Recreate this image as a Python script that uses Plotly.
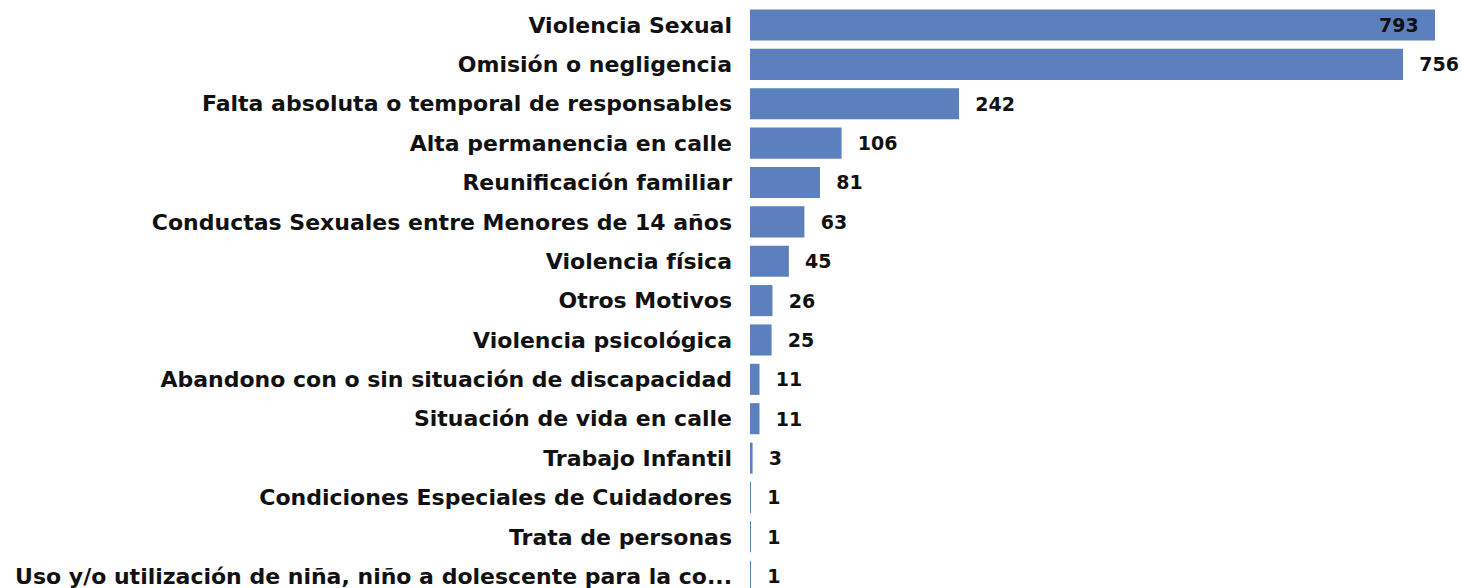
import plotly.graph_objects as go

categories = [
    "Violencia Sexual",
    "Omisión o negligencia",
    "Falta absoluta o temporal de responsables",
    "Alta permanencia en calle",
    "Reunificación familiar",
    "Conductas Sexuales entre Menores de 14 años",
    "Violencia física",
    "Otros Motivos",
    "Violencia psicológica",
    "Abandono con o sin situación de discapacidad",
    "Situación de vida en calle",
    "Trabajo Infantil",
    "Condiciones Especiales de Cuidadores",
    "Trata de personas",
    "Uso y/o utilización de niña, niño a dolescente para la co...",
]
values = [793, 756, 242, 106, 81, 63, 45, 26, 25, 11, 11, 3, 1, 1, 1]

NB = "\u00a0"
positions = ["inside" if v == max(values) else "outside" for v in values]
texts = [
    (f"{v}{NB*2}" if p == "inside" else f"{NB*2}{v}") for v, p in zip(values, positions)
]

FONT = "DejaVu Sans"
FS = 22
FS_VAL = 19

fig = go.Figure(
    go.Bar(
        x=values,
        y=categories,
        orientation="h",
        marker=dict(color="#5b80bd", line=dict(width=0)),
        text=texts,
        textposition=positions,
        insidetextanchor="end",
        textfont=dict(family=FONT, size=FS_VAL, color="#111111", weight="bold"),
        insidetextfont=dict(family=FONT, size=FS_VAL, color="#111111", weight="bold"),
        outsidetextfont=dict(family=FONT, size=FS_VAL, color="#111111", weight="bold"),
        cliponaxis=False,
    )
)

fig.update_layout(
    width=1461,
    height=588,
    margin=dict(l=750, r=26, t=0, b=0, autoexpand=False),
    paper_bgcolor="white",
    plot_bgcolor="white",
    bargap=0.21,
    showlegend=False,
)
fig.update_xaxes(range=[0, 793], visible=False, showgrid=False, zeroline=False, automargin=False)
fig.update_yaxes(
    categoryorder="array",
    categoryarray=categories,
    range=[14.30, -0.635],
    showgrid=False,
    zeroline=False,
    showline=False,
    ticks="",
    automargin=False,
    ticklabelstandoff=17,
    tickfont=dict(family=FONT, size=FS, color="#111111", weight="bold"),
)

fig.write_html(
    "out.html",
    config={"displayModeBar": False},
    post_script="document.body.style.margin='0px';document.body.style.overflow='hidden';",
)
